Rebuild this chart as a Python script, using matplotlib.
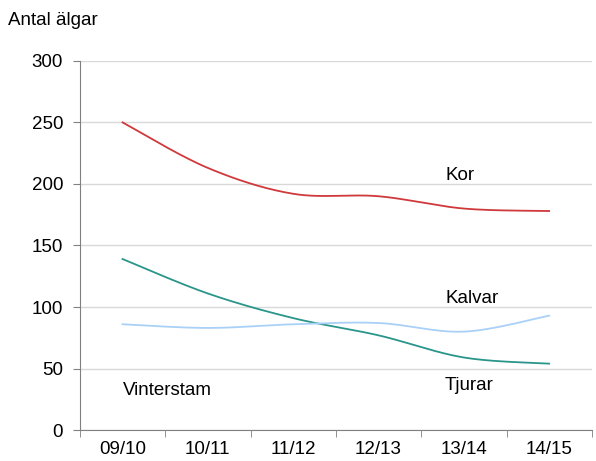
import matplotlib
matplotlib.use("Agg")
import matplotlib.pyplot as plt
import numpy as np

plt.rcParams['font.family'] = ['Liberation Sans', 'DejaVu Sans']

seasons = ["09/10", "10/11", "11/12", "12/13", "13/14", "14/15"]
kor = [250, 213, 192, 190, 180, 178]
tjurar = [139, 111, 91, 77, 59, 54]
kalvar = [86, 83, 86, 87, 80, 93]


def smooth(y, n=30):
    # Catmull-Rom style smoothing like spreadsheet "smoothed line"
    y = np.asarray(y, dtype=float)
    x = np.arange(len(y), dtype=float)
    px = np.concatenate([[x[0]], x, [x[-1]]])
    py = np.concatenate([[y[0]], y, [y[-1]]])
    xs, ys = [], []
    for i in range(1, len(px) - 2):
        t = np.linspace(0, 1, n)
        p0, p1, p2, p3 = py[i - 1], py[i], py[i + 1], py[i + 2]
        q0, q1, q2, q3 = px[i - 1], px[i], px[i + 1], px[i + 2]
        m1 = (p2 - p0) / 2
        m2 = (p3 - p1) / 2
        k1 = (q2 - q0) / 2
        k2 = (q3 - q1) / 2
        h00 = 2 * t**3 - 3 * t**2 + 1
        h10 = t**3 - 2 * t**2 + t
        h01 = -2 * t**3 + 3 * t**2
        h11 = t**3 - t**2
        ys.append(h00 * p1 + h10 * m1 + h01 * p2 + h11 * m2)
        xs.append(h00 * q1 + h10 * k1 + h01 * q2 + h11 * k2)
    return np.concatenate(xs), np.concatenate(ys)


FS = 13.5

fig = plt.figure(figsize=(5.96, 4.61), dpi=100)
ax = fig.add_axes([0.134, 0.067, 0.859, 0.801])

for data, col in [(kor, "#d0393b"), (tjurar, "#2a958a"), (kalvar, "#a9d1f7")]:
    sx, sy = smooth(data)
    ax.plot(sx, sy, color=col, lw=1.3)

ax.set_xlim(-0.5, 5.5)
ax.set_ylim(0, 300)
ax.set_yticks(np.arange(0, 301, 50))
ax.set_xticks(range(len(seasons)))
ax.set_xticklabels(seasons)
ax.set_xticks(np.arange(-0.5, 5.6, 1), minor=True)
ax.tick_params(axis='x', which='major', length=0, pad=8, labelsize=FS)
ax.tick_params(axis='x', which='minor', length=5, color="#808080")
ax.tick_params(axis='y', length=5, color="#808080", pad=7, labelsize=FS)
ax.grid(axis='y', color="#d9d9d9", lw=1)
ax.set_axisbelow(True)
for s in ["top", "right"]:
    ax.spines[s].set_visible(False)
for s in ["left", "bottom"]:
    ax.spines[s].set_color("#808080")

ax.text(3.79, 207, "Kor", fontsize=FS, ha="left", va="center")
ax.text(3.78, 107, "Kalvar", fontsize=FS, ha="left", va="center")
ax.text(3.78, 36, "Tjurar", fontsize=FS, ha="left", va="center")
ax.text(0.0, 32, "Vinterstam", fontsize=FS, ha="left", va="center")
fig.text(0.013, 0.955, "Antal älgar", fontsize=FS, ha="left", va="center")

fig.savefig("out.png", dpi=100)
